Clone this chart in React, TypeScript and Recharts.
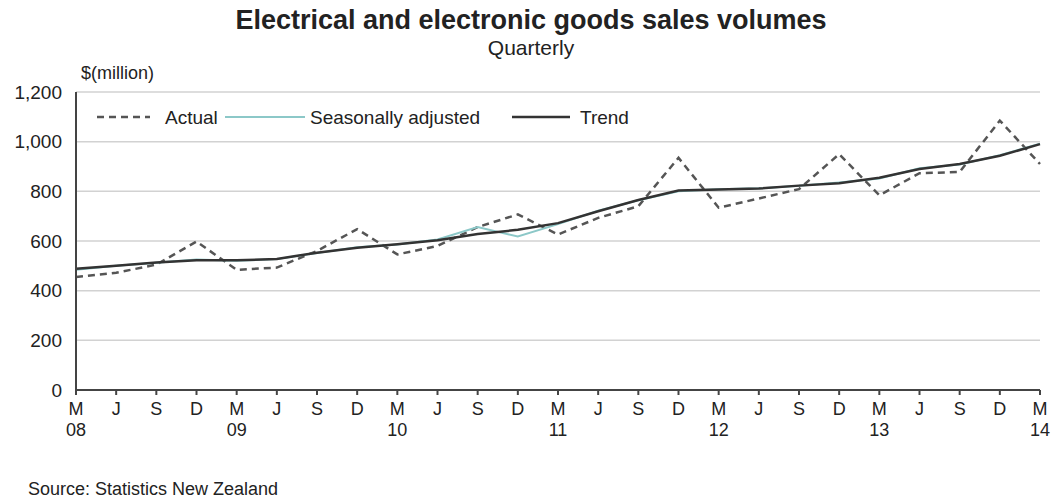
import { LineChart, Line, XAxis, YAxis, CartesianGrid } from 'recharts';

const quarters = [
  'M', 'J', 'S', 'D', 'M', 'J', 'S', 'D', 'M', 'J', 'S', 'D', 'M',
  'J', 'S', 'D', 'M', 'J', 'S', 'D', 'M', 'J', 'S', 'D', 'M',
];
const years = [
  '08', '', '', '', '09', '', '', '', '10', '', '', '', '11',
  '', '', '', '12', '', '', '', '13', '', '', '', '14',
];
const actual = [
  455, 472, 505, 598, 484, 493, 560, 648, 546, 580, 656, 707, 626,
  693, 740, 935, 734, 771, 809, 950, 784, 873, 878, 1085, 910,
];
const seasonallyAdjusted = [
  484, 500, 512, 525, 520, 527, 552, 575, 586, 606, 656, 618, 668,
  722, 764, 800, 808, 812, 822, 836, 852, 893, 908, 945, 992,
];
const trend = [
  488, 500, 513, 522, 522, 528, 553, 573, 587, 603, 628, 645, 672,
  720, 765, 803, 807, 811, 823, 833, 855, 890, 910, 943, 990,
];
const yTicks = [0, 200, 400, 600, 800, 1000, 1200];

const data = quarters.map((q, i) => ({
  key: `${q}${i}`,
  month: q,
  year: years[i],
  actual: actual[i],
  sa: seasonallyAdjusted[i],
  trend: trend[i],
}));

const FONT = '"Liberation Sans", Arial, sans-serif';
const ACTUAL_COLOR = '#555555';
const SA_COLOR = '#8cc8c8';
const TREND_COLOR = '#333333';

const QuarterTick = ({ x, y, payload }: any) => {
  const d = data[payload.index];
  return (
    <text x={x} y={y} textAnchor="middle" fontFamily={FONT} fontSize={18} fill="#222">
      <tspan x={x} dy={18}>{d.month}</tspan>
      {d.year && <tspan x={x} dy={21}>{d.year}</tspan>}
    </text>
  );
};

// legend drawn over the plot, top-left
const ChartLegend = () => (
  <svg width={620} height={26} style={{ position: 'absolute', left: 95, top: 104, fontFamily: FONT }}>
    <line x1={2} y1={13} x2={55} y2={13} stroke={ACTUAL_COLOR} strokeWidth={2.5} strokeDasharray="7 5" />
    <text x={70} y={20} fontSize={19} fill="#222">Actual</text>
    <line x1={130} y1={13} x2={210} y2={13} stroke={SA_COLOR} strokeWidth={2} />
    <text x={215} y={20} fontSize={19} fill="#222">Seasonally adjusted</text>
    <line x1={417} y1={13} x2={475} y2={13} stroke={TREND_COLOR} strokeWidth={2.5} />
    <text x={485} y={20} fontSize={19} fill="#222">Trend</text>
  </svg>
);

export default function App() {
  return (
    <div
      style={{
        position: 'absolute',
        left: 0,
        top: 0,
        width: 1056,
        height: 502,
        background: '#fff',
        fontFamily: FONT,
        color: '#222',
      }}
    >
      <div style={{ position: 'absolute', top: 5, width: 1062, textAlign: 'center', fontSize: 27, fontWeight: 'bold' }}>
        Electrical and electronic goods sales volumes
      </div>
      <div style={{ position: 'absolute', top: 36, width: 1062, textAlign: 'center', fontSize: 21 }}>
        Quarterly
      </div>
      <div style={{ position: 'absolute', top: 63, left: 81, fontSize: 18 }}>$(million)</div>
      <LineChart
        width={1056}
        height={502}
        data={data}
        margin={{ top: 92, right: 16, left: 0, bottom: 82 }}
      >
        <CartesianGrid vertical={false} stroke="#d2d2d2" strokeWidth={1.5} />
        <XAxis
          dataKey="key"
          tick={<QuarterTick />}
          interval={0}
          height={30}
          stroke="#444"
          strokeWidth={2}
          tickSize={5}
          tickMargin={2}
        />
        <YAxis
          domain={[0, 1200]}
          ticks={yTicks}
          width={76}
          tickLine={false}
          tickSize={0}
          tickMargin={14}
          stroke="#444"
          strokeWidth={2}
          tick={{ fontFamily: FONT, fontSize: 19, fill: '#222' }}
          tickFormatter={(v: number) => v.toLocaleString('en-US')}
        />
        <Line
          type="linear"
          dataKey="actual"
          stroke={ACTUAL_COLOR}
          strokeWidth={2.5}
          strokeDasharray="7 5"
          dot={false}
          isAnimationActive={false}
        />
        <Line
          type="linear"
          dataKey="sa"
          stroke={SA_COLOR}
          strokeWidth={2}
          dot={false}
          isAnimationActive={false}
        />
        <Line
          type="linear"
          dataKey="trend"
          stroke={TREND_COLOR}
          strokeWidth={2.5}
          dot={false}
          isAnimationActive={false}
        />
      </LineChart>
      <ChartLegend />
      <div style={{ position: 'absolute', top: 479, left: 28, fontSize: 18 }}>
        Source: Statistics New Zealand
      </div>
    </div>
  );
}
